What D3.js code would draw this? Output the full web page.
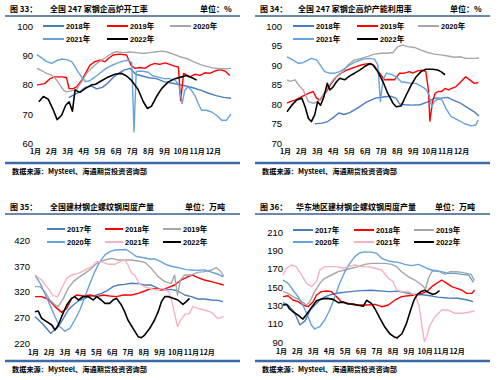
<!DOCTYPE html>
<html><head><meta charset="utf-8">
<script src="https://cdn.jsdelivr.net/npm/d3@7"></script>
<style>body{margin:0;background:#fff}svg{display:block}</style>
</head><body>
<svg id="c" width="500" height="380"></svg>
<script>
// ---------- shared labels ----------
const months = ["1月","2月","3月","4月","5月","6月","7月","8月","9月","10月","11月","12月"];
const yearsTop = ["2018年","2019年","2020年","2021年","2022年"];
const yearsBottom = ["2017年","2018年","2019年","2020年","2021年","2022年"];
const ticks33 = [60,70,80,90,100];
const ticks34 = [70,75,80,85,90,95,100];
const ticks35 = [220,270,320,370,420];
const ticks36 = [90,110,130,150,170,190,210];

// ---------- 图33 blast furnace operating rate (%) [week, value] ----------
const p33_2018 = [[8.5,75.5],[10,76.5],[11.5,77.5],[13,79],[14.5,79.5],[16,78.5],[17.5,79],[19,80.5],[20.5,82.5],[22,84],[23.5,85],[25,85.5],[26.5,83.5],[28,83],[30,82.3],[32,82],[34,81],[36,80.5],[38,80],[40,79.5],[42,78.8],[44,78],[46,77],[48,76.2],[50,75.6],[52,75.3]];
const p33_2019 = [[0,79.8],[2,80.3],[3.5,82],[4.8,82.6],[6.6,82.6],[7.9,82.4],[8.6,78.6],[9.7,78.6],[10.6,79.2],[12,81.5],[13,83.8],[14.2,86.6],[15.5,87.8],[16.9,88.3],[18.2,87.8],[19.1,88.9],[20.4,90.1],[22.2,90.4],[24,90.1],[25.2,86.6],[26.3,85.5],[27.6,85.8],[28.9,85.5],[30.3,86.6],[31.6,87.2],[32.9,86.9],[34.3,87.4],[35.6,86.9],[37,86.2],[37.9,86],[38.5,74.5],[39.3,83.8],[41,82.6],[42.3,83.5],[43.7,83.1],[45,84],[46.3,83.8],[47.7,84.6],[49,85.1],[50.4,84.6],[51.7,83.1]];
const p33_2020 = [[0,85.5],[1.3,84.7],[2.6,83.8],[3.9,83.2],[5.3,81.5],[6.2,79.8],[7.1,78.1],[7.9,77.5],[9.3,77.9],[10.6,78.3],[12,81],[13.3,83.8],[14.6,85.5],[16,87.2],[17.3,88.3],[18.7,89.5],[20,90.6],[21.3,91.2],[23.1,90.9],[24.9,91.1],[26.7,90.9],[28.5,90.6],[30.3,90.9],[32,91.2],[33.4,91.4],[34.7,91.2],[36.5,90.4],[38.3,89.5],[40.1,88.9],[41.9,87.8],[43.7,86.9],[45.4,86.2],[47.2,85.7],[49,85.4],[50.8,85.4],[52,85.5]];
const p33_2021 = [[0,90.2],[1.3,89],[2.6,87.8],[3.9,87.2],[5.3,88.2],[6.6,88.7],[7.9,88.5],[9.3,87.8],[10.2,86.1],[11,84.3],[12,82.5],[13,81],[14,81.2],[15.5,82.5],[17,84],[18.5,85.5],[20,86.5],[21.5,87.3],[23,88],[24.5,88.3],[25.4,87.5],[26,63.8],[26.6,84.5],[28,84.6],[29.8,84.2],[31,83],[32.5,82.5],[34,82],[35.5,82],[37,81.5],[38,80],[38.9,73.5],[39.6,78],[40.5,79.2],[41.4,78],[42.3,76.3],[43.2,73.5],[44.1,71.2],[45.4,71.2],[46.8,70.6],[48.1,69.5],[49.5,67.8],[50.8,67.8],[52,69.9]];
const p33_2022 = [[0.5,74.1],[1.7,75.9],[3,75],[4.4,71.2],[5.4,68],[6.6,69.5],[7.7,72.9],[8.6,74.1],[9.5,70.9],[10.2,78.1],[11.5,77.3],[12.9,78.6],[14.5,79.8],[15.7,80.1],[17.3,81.3],[19.1,82.6],[20.9,83.5],[22.7,83.8],[24,82.9],[25.4,81.3],[27.1,78.3],[28.5,74.1],[29.6,71.8],[30.7,72.6],[32,75.8],[33.4,78.6],[35.2,80.9],[37,82],[38.8,82.6],[40,83.1],[41.4,82.4],[42.8,81.5]];

// ---------- 图34 blast furnace capacity utilisation (%) ----------
const p34_2018 = [[7.5,74.9],[9.5,75.1],[11,75.5],[12.5,76.5],[14,77.7],[15.5,77.3],[17,77.8],[19.5,79.2],[21.5,80.5],[24,81.5],[26,81.8],[28,82],[29.5,81.5],[30.5,80],[32,79.8],[34,79.7],[36,79.8],[38,80.5],[40,81.5],[41.7,81.5],[43.5,81.7],[45,81],[47,80.2],[49,79],[50.7,78],[52,76.9]];
const p34_2019 = [[0,80.2],[0.8,80.6],[2.2,81],[4,81.9],[5.8,82.7],[7.1,83.2],[8,81.5],[8.9,81],[9.8,82.3],[10.7,83.2],[12,85.3],[13.4,87],[14.7,87.9],[16.1,88.7],[17.4,89.1],[18.8,89.6],[20.1,90],[21.5,90.3],[22.8,90.4],[23.7,89.7],[25.1,87.9],[26.4,86.2],[27.8,86.3],[29.1,86.2],[30.5,87.9],[31.8,87.9],[33.2,88.3],[34,87.9],[35.4,88.5],[36.7,88.7],[37.6,88.3],[38.3,83.6],[38.7,75.6],[39.4,80.6],[40.1,82.7],[41,83.2],[41.9,83.2],[42.8,84],[43.7,83.6],[44.6,84],[45.7,84.4],[47.1,85.7],[48.4,87],[49.5,86.2],[50.7,85.3],[51.8,85.5]];
const p34_2020 = [[0,86.2],[0.8,85.8],[2.2,86.2],[3.1,84.9],[4.4,83.6],[5.8,80.6],[7.1,80.2],[8.4,80.6],[9.8,82.3],[11.1,84.4],[12.5,86.2],[13.8,87.4],[15.2,88.3],[16.5,90],[18.3,91.3],[20.1,91.7],[21.9,92.2],[23.7,92.8],[25.5,93],[27.3,93],[28.7,93.2],[30,94.7],[31.4,95.1],[32.7,94.7],[34.5,94.5],[36.3,93.8],[38.1,93.2],[39.9,92.8],[41.7,92.6],[43.5,92.3],[45.3,92],[47.1,92.1],[48.4,91.7],[49.8,91.7],[51.1,91.7],[52,91.8]];
const p34_2021 = [[0,92.1],[0.8,91.7],[3.1,90.4],[4.4,90.6],[6.6,91.7],[8,91.3],[9.3,89.6],[10.2,88.3],[11.6,87.9],[12.9,87.9],[14.3,88.3],[15.6,89.1],[17,90],[18.8,90.9],[20.6,91.5],[22.4,91.7],[23.7,91.5],[24.6,90],[25.3,80.6],[26,86.2],[26.9,87.9],[28.2,87.6],[29.6,87],[30.9,85.7],[32.3,85.5],[33.6,85.3],[35,85.3],[36.3,84.6],[37.6,83.8],[38.5,82.3],[39.2,79.3],[39.9,80.6],[41,81.5],[42.1,80.9],[43,78.9],[44.4,76.8],[46.2,75.9],[48,75],[49.8,74.4],[51.1,74.6],[51.8,75.9]];
const p34_2022 = [[0,78],[1.3,79.7],[2.6,81],[4,81.5],[4.9,79.3],[5.8,76.3],[6.6,75.5],[7.5,77.2],[8.3,80.6],[9.1,79.7],[10,81.9],[10.9,85.3],[11.6,83.6],[12.5,84.4],[13.4,85.7],[14.3,86.6],[15.6,86.2],[17,87.2],[18.3,87.9],[19.7,88.7],[21,89.6],[22.4,90.3],[23.3,90],[24.6,88.3],[26,85.7],[27.3,82.7],[28.7,80.2],[29.6,79.3],[30.9,79.5],[32.3,82.3],[33.6,84.8],[35,87],[36.3,88.3],[37.6,88.9],[39.4,88.9],[40.8,88.7],[41.7,88.3],[42.8,87.5]];

// ---------- 图35 national rebar weekly output (10k t) ----------
const p35_2017 = [[0,271],[2,258],[4.3,239],[6.4,251.7],[7.8,267.9],[9.1,284.1],[10.5,293.8],[11.9,301.6],[13.2,305.4],[14.6,310],[16.4,311.9],[18.2,316.4],[20.1,322.9],[21.4,329.4],[22.8,332.6],[24.6,333.9],[26.5,335.9],[28.3,335.2],[30.1,332.6],[31.9,332.6],[33.8,326.1],[35.6,322.9],[37.4,324.2],[39.2,321],[41.1,313.2],[42.9,310],[44.7,305.4],[46.5,305.4],[48.4,303.5],[50.2,302.8],[51.6,300.3]];
const p35_2018 = [[0,310],[1.8,310],[3.6,305.4],[5.5,290.6],[7.3,279.5],[8.7,287.3],[10,305.4],[11.4,313.2],[13.2,311.3],[15.1,313.2],[16.9,310],[18.7,313.2],[20.5,311.3],[22.4,310],[24.2,313.2],[26.5,313.2],[28.3,316.4],[30.1,321],[31.9,326.1],[33.3,324.9],[34.7,322.9],[36.5,327.4],[38.3,332.6],[40.1,342.3],[42,348.8],[43.3,352],[44.7,346.9],[46.5,342.3],[48.4,339.1],[50.2,335.9],[51.8,332.6]];
const p35_2019 = [[0,329.4],[1.4,329.4],[2.7,319.7],[4.1,303.5],[5.5,293.8],[6.4,290.6],[7.8,306.7],[9.1,326.1],[10.5,339.1],[11.9,346.9],[13.7,355.3],[15.5,365],[17.3,376.6],[19.2,381.2],[21,384.4],[22.8,381.2],[24.6,381.2],[26.5,381.2],[28.3,379.2],[30.1,376.6],[31.9,365],[33.8,348.8],[35.6,339.1],[37.4,335.9],[38.3,352],[39.1,313.2],[39.9,342.3],[41.1,352],[42.9,352],[44.7,357.2],[46.5,358.5],[48.4,361.7],[49.7,366.3],[50.9,359.8],[51.8,348.8]];
const p35_2020 = [[0,352],[1.4,336],[2.7,316],[4.1,294],[5.5,271],[6.8,252],[8.2,243],[9.6,248.5],[10.9,264.7],[12.3,284],[13.7,310],[15.1,336],[16.4,358.5],[17.8,378],[19.2,391],[20.5,397.3],[22,400.6],[23.5,401],[25,401.5],[26.5,394.8],[27.8,388],[29.5,386],[31.5,383],[33,383],[34.5,378],[36,372],[38,368],[39.5,366],[41.5,362.5],[43,361.7],[44.7,361],[46.5,362],[48,358.5],[50,354],[51.6,349]];
const p35_2021 = [[0,352],[1.8,342.3],[3.6,326.1],[5,311.9],[6.2,310],[7.3,326.1],[8.7,345.6],[10,352],[11.9,355.3],[13.7,361.7],[15.5,368.2],[16.9,377.9],[18.2,377.9],[20.1,372.8],[21.9,372.8],[23.3,377.9],[24.6,381.2],[25.5,371.5],[26.5,355.3],[27.4,352],[28.7,333.9],[30.1,329.4],[31.5,326.1],[33.3,322.9],[35.1,326.1],[36.7,319.7],[37.6,300.3],[38.3,277.6],[39.1,251.7],[39.7,261.4],[41.1,275.7],[42.4,277.6],[43.3,290.6],[44.7,287.3],[46.5,284.1],[48.4,279.5],[50,267.9],[51.1,269.2],[51.8,271.1]];
const p35_2022 = [[0,280.8],[0.9,282],[1.8,268],[3.2,261.4],[4.6,255],[5.5,245.2],[6.4,255],[7.3,271.1],[8.7,293.8],[10,306.7],[10.9,310],[11.9,303.5],[13.2,310],[14.6,310],[16,303.5],[16.9,310],[18.2,303.5],[19.2,297],[20.5,297],[21.4,303.5],[22.4,306.7],[23.7,293.8],[24.6,280.8],[25.5,264.7],[26.9,248.5],[28.3,232.3],[29.2,230.4],[30.1,235.5],[31.5,248.5],[32.8,264.7],[33.8,280.8],[34.7,300.3],[35.6,310],[36.7,310],[37.9,306.7],[39.2,303.5],[40.6,295.1],[41.5,300.3],[42.4,306.7]];

// ---------- 图36 East China rebar weekly output (10k t) ----------
const p36_2017 = [[0,133],[1.5,130],[3,123],[4.6,108.5],[6,113],[7.4,125],[8.8,131],[10.1,136],[11.5,139.5],[12.8,141.5],[15,143.5],[18.3,145],[21,146],[24,146.5],[27,145.5],[29,145],[31,145.5],[33,144],[35,142.5],[36.5,141.5],[38,141.5],[40,140.5],[42,139],[44.7,138],[47.4,137.7],[50.1,135.8],[51.6,134]];
const p36_2018 = [[0,139.5],[1.4,140.5],[2.7,135.8],[4.1,134],[5.4,130.4],[6.8,128.5],[8.2,134],[9.1,141.3],[10.4,144.9],[11.8,145.6],[13.2,144.9],[14.5,139.5],[15.9,134],[17.7,132.2],[19.5,130.4],[21.3,130.4],[23.1,130.4],[25,131.1],[26.8,128.5],[28.6,130.4],[30.4,135.8],[32.2,139.5],[34,140.5],[35.8,141.3],[37.7,143.1],[39,144.9],[40.4,150.4],[41.7,154],[43.1,157.6],[44.5,154],[45.8,150.4],[47.2,148.5],[48.5,146.7],[49.9,143.1],[51.3,143.1],[52,146.7]];
const p36_2019 = [[0,144.9],[1.4,143.1],[2.7,139.5],[4.1,136.9],[5.4,133.3],[6.4,130.4],[7.3,134],[8.6,144.9],[10,154],[11.3,159.5],[13.2,163.1],[15,166.7],[16.8,168.5],[18.6,170.4],[20.4,172.2],[22.2,174.7],[24,175.8],[25.9,175.8],[27.7,175.8],[29.5,174.7],[30.9,172.2],[32.2,166.7],[34,161.3],[35.8,157.6],[37.7,152.2],[38.7,147.8],[39.5,159.5],[40.4,166.7],[41.3,168.5],[42.6,166.7],[44,163.8],[45.4,166.7],[47.2,166.7],[48.5,166],[49.9,164.9],[51.1,163.8],[52,157]];
const p36_2020 = [[0,157.6],[1.4,154],[2.7,146.7],[4.1,139.5],[5.4,130.4],[6.8,117.6],[7.7,108.5],[8.6,104.2],[10,106.7],[11.3,114],[12.7,124.9],[14.1,139.5],[15.4,154],[16.8,166.7],[18.1,175.8],[19.5,183.1],[20.9,187.3],[22.2,188.3],[24,188],[25.4,186.7],[26.8,181.3],[28.6,178.4],[29.9,177.6],[31.3,176.9],[33.1,174.7],[34.9,173.3],[36.8,174.7],[38.1,172.2],[39.5,169.6],[41.3,167.5],[43.1,166.7],[44.9,164.9],[46.7,164.9],[48.5,163.8],[50.4,163.1],[51.7,155.1]];
const p36_2021 = [[0,163.1],[0.9,170.4],[2.3,174],[3.6,172.2],[5,163.1],[6.4,154],[7.7,150.4],[9.1,155.8],[10,168.5],[11.3,172.2],[12.7,172.2],[14.5,172.2],[16.3,170.4],[17.7,172.2],[19.5,174],[21.3,172.2],[23.1,172.2],[25,170.4],[26.8,168.5],[28.6,159.5],[29.9,155.8],[30.9,146.7],[32.2,144.9],[34,144.9],[35.8,141.3],[36.9,130.4],[37.7,108.5],[38.4,90.4],[39,95.8],[39.9,108.5],[41.3,117.6],[43.1,124.9],[44.9,124.9],[46.7,121.3],[48.5,121.3],[50.4,122.4],[52,123.8]];
const p36_2022 = [[0,130.4],[1,131],[1.8,126],[2.7,123],[4,119.5],[5.4,115],[6.4,120],[7.7,127.5],[9.1,135],[10.4,137],[12,137.6],[13.6,136.5],[15,133],[16.3,133.5],[17.7,131.5],[19.1,131.5],[20.4,130],[21.8,129],[22.7,135.5],[24,132.2],[25,126],[26.3,116],[27.7,106],[29,99],[30.2,95.5],[31,94.5],[32.3,99],[33.5,110],[34.6,124],[35.6,136],[36.5,142],[37.5,145],[38.5,146.5],[39.5,144],[40.6,142],[41.5,143],[42.5,146]];

// ---------- styling ----------
const col = {dblue:"#4a7ebf", lblue:"#66a3dc", red:"#ff0000", gray:"#a6a6a6", black:"#000000", pink:"#f6b3be"};
const NUM = "'Liberation Sans', Arial, 'Noto Sans CJK SC', sans-serif";
const CJK = "'Noto Sans CJK SC', 'Liberation Sans', sans-serif";

const panels = [
  {ox:0, oy:0, fig:"图 33：", title:"全国 247 家钢企高炉开工率", unit:"单位：%", unitX:200, titleX:50,
   xr:[37,231], yd:[60,100], yr:[143,26], ticks:ticks33, yLabX:33, xLabY:152,
   names:yearsTop, data:[p33_2018,p33_2019,p33_2020,p33_2021,p33_2022],
   colors:[col.dblue,col.red,col.gray,col.lblue,col.black],
   legX:[43,107,170], legY:[26,39], legL:21},
  {ox:250, oy:0, fig:"图 34：", title:"全国 247 家钢企高炉产能利用率", unit:"单位：%", unitX:200, titleX:48,
   xr:[37,229], yd:[70,100], yr:[143,26], ticks:ticks34, yLabX:32, xLabY:152,
   names:yearsTop, data:[p34_2018,p34_2019,p34_2020,p34_2021,p34_2022],
   colors:[col.dblue,col.red,col.gray,col.lblue,col.black],
   legX:[43,107,168], legY:[26,39], legL:21},
  {ox:0, oy:198, fig:"图 35：", title:"全国建材钢企螺纹钢周度产量", unit:"单位：万吨", unitX:185, titleX:50,
   xr:[35,224.5], yd:[220,420], yr:[145,42], ticks:ticks35, yLabX:30, xLabY:155,
   names:yearsBottom, data:[p35_2017,p35_2018,p35_2019,p35_2020,p35_2021,p35_2022],
   colors:[col.dblue,col.red,col.gray,col.lblue,col.pink,col.black],
   legX:[47,105,163], legY:[31,44], legL:18},
  {ox:250, oy:198, fig:"图 36：", title:"华东地区建材钢企螺纹钢周度产量", unit:"单位：万吨", unitX:185, titleX:46,
   xr:[33,224.5], yd:[90,210], yr:[144,34], ticks:ticks36, yLabX:33, xLabY:154,
   names:yearsBottom, data:[p36_2017,p36_2018,p36_2019,p36_2020,p36_2021,p36_2022],
   colors:[col.dblue,col.red,col.gray,col.lblue,col.pink,col.black],
   legX:[43,104,164], legY:[32,44], legL:20}
];

const svg = d3.select("#c");

panels.forEach((p) => {
  const g = svg.append("g").attr("transform",`translate(${p.ox},${p.oy})`);
  // header
  g.append("text").attr("x",10).attr("y",12).attr("font-family",CJK).attr("font-weight",700)
    .attr("font-size",8).text(p.fig);
  g.append("text").attr("x",p.titleX).attr("y",12).attr("font-family",CJK).attr("font-weight",700)
    .attr("font-size",8).text(p.title);
  g.append("text").attr("x",p.unitX).attr("y",12).attr("font-family",CJK).attr("font-weight",700)
    .attr("font-size",8).text(p.unit);
  g.append("line").attr("x1",5).attr("x2",240).attr("y1",16).attr("y2",16)
    .attr("stroke","#3a5f8f").attr("stroke-width",1.5);
  // footer
  g.append("line").attr("x1",5).attr("x2",240).attr("y1",163).attr("y2",163)
    .attr("stroke","#3d6aa5").attr("stroke-width",2.5);
  g.append("text").attr("x",12).attr("y",174).attr("font-family",CJK).attr("font-weight",700)
    .attr("font-size",7.2).text("数据来源：Mysteel、海通期货投资咨询部");

  const x = d3.scaleLinear().domain([0,52]).range(p.xr);
  const y = d3.scaleLinear().domain(p.yd).range(p.yr);

  // y axis
  const ya = g.append("g").attr("transform",`translate(${p.yLabX},0)`)
    .call(d3.axisLeft(y).tickValues(p.ticks).tickSize(0).tickPadding(0).tickFormat(d3.format("d")));
  ya.select(".domain").remove();
  ya.selectAll("text").attr("font-family",NUM).attr("font-size",9.5).attr("fill","#000").attr("x",0).attr("dy","0.35em");

  // x axis (month labels)
  const xa = g.append("g").attr("transform",`translate(-2,${p.xLabY})`)
    .call(d3.axisBottom(x).tickValues(d3.range(12).map(i=>i*52/12)).tickSize(0).tickFormat((d,i)=>months[i]));
  xa.select(".domain").remove();
  xa.selectAll("text").attr("font-family",CJK).attr("font-weight",700).attr("font-size",7).attr("fill","#000").attr("y",0).attr("dy","0.35em");

  // lines
  const line = d3.line().x(d=>x(d[0])).y(d=>y(d[1]));
  p.data.forEach((s,i) => {
    g.append("path").datum(s).attr("d",line).attr("fill","none")
      .attr("stroke",p.colors[i]).attr("stroke-width", i===p.data.length-1?1.6:1.4)
      .attr("stroke-linejoin","round");
  });

  // legend
  p.names.forEach((n,i) => {
    const lx = p.legX[i%3], ly = p.legY[Math.floor(i/3)];
    g.append("line").attr("x1",lx).attr("x2",lx+p.legL).attr("y1",ly).attr("y2",ly)
      .attr("stroke",p.colors[i]).attr("stroke-width",2);
    g.append("text").attr("x",lx+p.legL+2).attr("y",ly).attr("dy","0.35em")
      .attr("font-family",NUM).attr("font-weight",700).attr("font-size",7.5).text(n);
  });
});
</script>
</body></html>
